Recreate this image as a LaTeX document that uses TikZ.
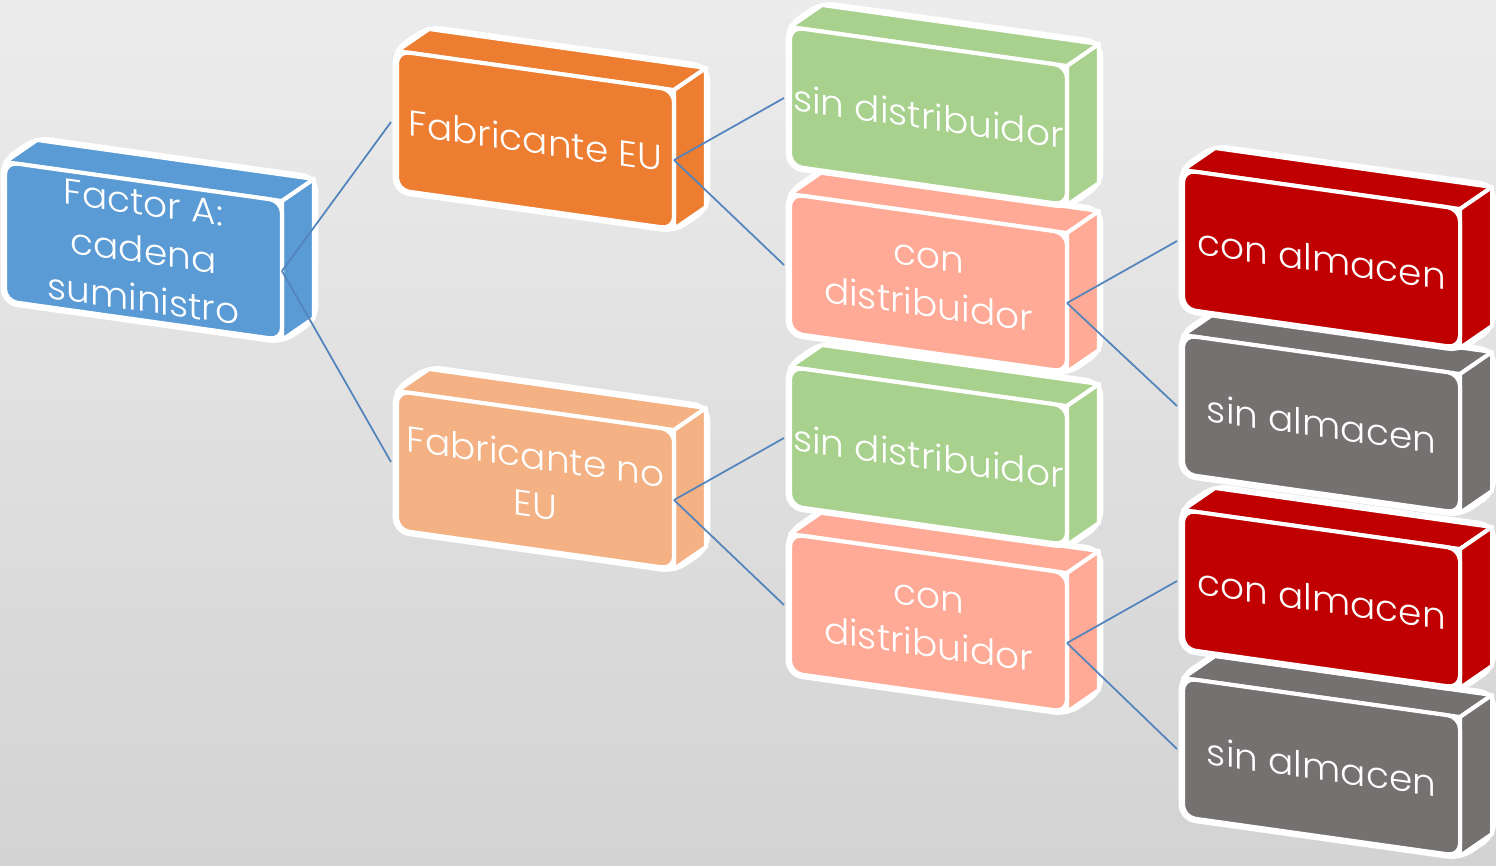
\documentclass[tikz,border=0pt]{standalone}
\usepackage{fontspec}
\setmainfont{Poppins}[UprightFont={* Light}]
\usetikzlibrary{calc}

\definecolor{bgtop}{RGB}{236,236,236}
\definecolor{bgbot}{RGB}{211,211,211}
\definecolor{cblue}{RGB}{91,155,213}
\definecolor{corange}{RGB}{237,125,49}
\definecolor{clorange}{RGB}{244,177,131}
\definecolor{cgreen}{RGB}{169,209,142}
\definecolor{csalmon}{RGB}{255,170,150}
\definecolor{cred}{RGB}{192,0,0}
\definecolor{cgray}{RGB}{118,113,113}
\definecolor{connblue}{RGB}{84,132,188}

% One 3-D block: front face 277 x 139 px, tilted down to the right,
% with a top face and a right face pushed back by (32,-22).
\newcommand\cubebox[5]{%
  \begin{scope}[shift={(#2,#3)}]
    \coordinate (#1-tl) at (0,0);
    \coordinate (#1-tr) at (277,39);
    \coordinate (#1-br) at (277,178);
    \coordinate (#1-bl) at (0,139);
    \coordinate (#1-in) at (-6,71);
    \coordinate (#1-out) at (277,109);
    % white outline round the whole block
    \filldraw[white, line width=5pt, line join=round, rounded corners=7pt]
      (0,0) -- (32,-22) -- (309,17) -- (309,156) -- (277,178) -- (0,139) -- cycle;
    % top and right faces
    \filldraw[facestyle, fill=#4] (0,0) -- (32,-22) -- (309,17) -- (277,39) -- cycle;
    \filldraw[facestyle, fill=#4] (277,39) -- (309,17) -- (309,156) -- (277,178) -- cycle;
    % front face
    \filldraw[facestyle, fill=#4, rounded corners=7pt]
      (0,0) -- (277,39) -- (277,178) -- (0,139) -- cycle;
    \node[boxtext] (#1) at (138.5,89) {#5};
  \end{scope}}

\tikzset{
  facestyle/.style={draw=white, line width=2.3pt, line join=round},
  boxtext/.style={text=white, align=center, inner sep=0pt,
    font=\fontsize{20.5}{27.5}\selectfont, transform shape,
    yslant=-0.1408, xscale=1.04},
  conn/.style={draw=connblue, line width=1pt},
}

\begin{document}
\begin{tikzpicture}[x=0.02cm, y=-0.02cm]
  \shade[top color=bgtop, bottom color=bgbot] (0,0) rectangle (1496,865);
  \useasboundingbox (0,0) rectangle (1496,865);

  % column 4 (lowest blocks first)
  \cubebox{g2}{1183}{678}{cgray}{sin almacen}
  \cubebox{r2}{1183}{510}{cred}{con almacen}
  \cubebox{g1}{1183}{335}{cgray}{sin almacen}
  \cubebox{r1}{1183}{170}{cred}{con almacen}

  % column 3
  \cubebox{cd2}{790}{534}{csalmon}{con\\distribuidor}
  \cubebox{sd2}{790}{367}{cgreen}{sin distribuidor}
  \cubebox{cd1}{790}{194}{csalmon}{con\\distribuidor}
  \cubebox{sd1}{790}{27}{cgreen}{sin distribuidor}

  % column 2
  \cubebox{fne}{397}{391}{clorange}{Fabricante no\\EU}
  \cubebox{fe}{397}{51}{corange}{Fabricante EU}

  % column 1
  \cubebox{fa}{5}{162}{cblue}{Factor A:\\cadena\\suministro}

  % connectors
  \draw[conn] (fa-out) -- (fe-in);
  \draw[conn] (fa-out) -- (fne-in);
  \draw[conn] (fe-out) -- (sd1-in);
  \draw[conn] (fe-out) -- (cd1-in);
  \draw[conn] (fne-out) -- (sd2-in);
  \draw[conn] (fne-out) -- (cd2-in);
  \draw[conn] (cd1-out) -- (r1-in);
  \draw[conn] (cd1-out) -- (g1-in);
  \draw[conn] (cd2-out) -- (r2-in);
  \draw[conn] (cd2-out) -- (g2-in);
\end{tikzpicture}
\end{document}
